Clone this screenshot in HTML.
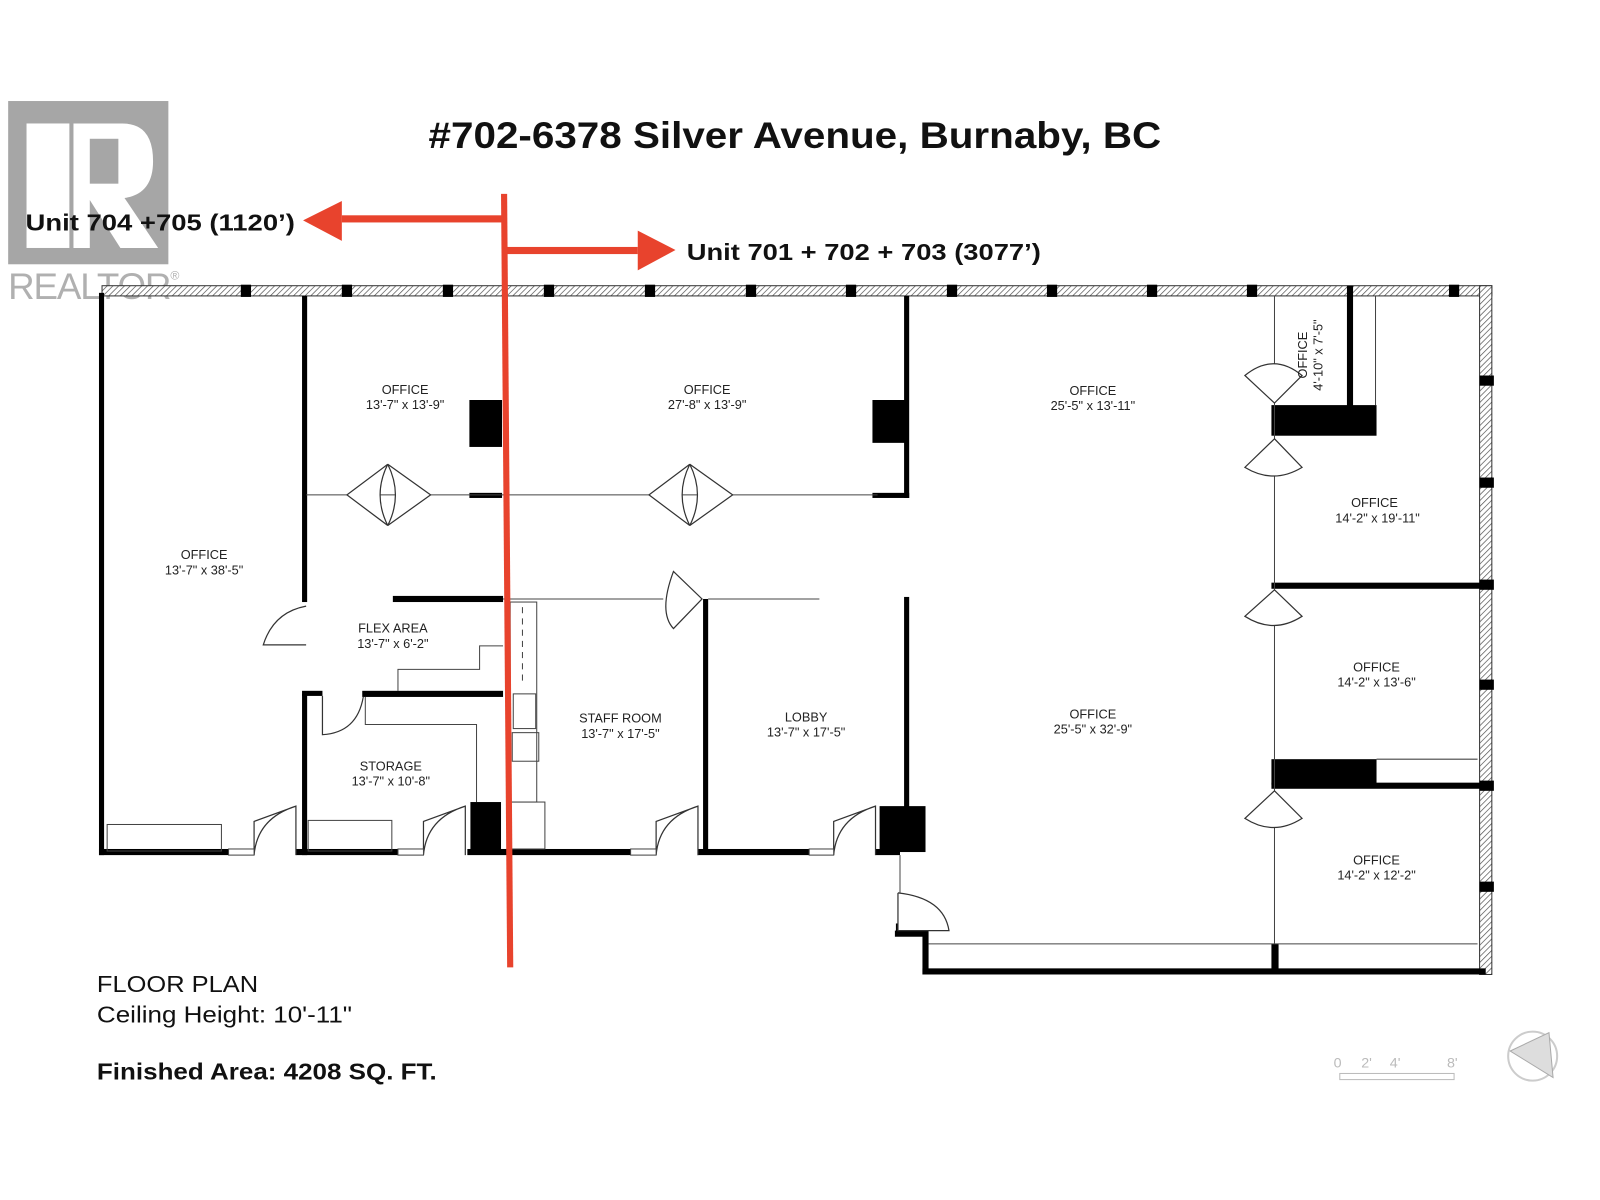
<!DOCTYPE html>
<html><head><meta charset="utf-8"><style>
html,body{margin:0;padding:0;background:#fff;width:1600px;height:1200px;overflow:hidden}
svg{display:block}
.t{font-family:"Liberation Sans",sans-serif;fill:#222;font-size:12.5px;text-anchor:middle}
</style></head><body>
<svg width="1600" height="1200" viewBox="0 0 1568 1176" xmlns="http://www.w3.org/2000/svg">
<defs>
<pattern id="h" width="4" height="4" patternUnits="userSpaceOnUse" patternTransform="rotate(45)">
<rect width="4" height="4" fill="#fff"/><line x1="0" y1="0" x2="0" y2="4" stroke="#555" stroke-width="1.4"/></pattern>
</defs>
<rect width="1568" height="1176" fill="#fff"/>
<!-- realtor logo -->
<rect x="8" y="99" width="157" height="160" fill="#a6a6a6"/>
<rect x="26" y="121" width="42" height="122" fill="#fff"/>
<path d="M72 121 H120 Q150 121 150 158 Q150 190 122 194 L155 243 H118 L88 196 V243 H72 Z" fill="#fff"/>
<rect x="88" y="136" width="28" height="44" fill="#a6a6a6"/>
<text x="8" y="293" font-family="Liberation Sans,sans-serif" font-size="36" fill="#b0b0b0" textLength="160">REALTOR</text>
<text x="167" y="274" font-family="Liberation Sans,sans-serif" font-size="12" fill="#b0b0b0">®</text>
<!-- title -->
<text x="420" y="145" font-family="Liberation Sans,sans-serif" font-weight="bold" font-size="36" fill="#111" textLength="718" lengthAdjust="spacingAndGlyphs">#702-6378 Silver Avenue, Burnaby, BC</text>
<!-- outer walls -->
<rect x="100" y="280" width="1362" height="10" fill="url(#h)" stroke="#333" stroke-width="1"/>
<rect x="1450" y="280" width="12" height="675" fill="url(#h)" stroke="#333" stroke-width="1"/>
<g fill="#000">
<rect x="236" y="279" width="10" height="12"/><rect x="335" y="279" width="10" height="12"/><rect x="434" y="279" width="10" height="12"/>
<rect x="533" y="279" width="10" height="12"/><rect x="632" y="279" width="10" height="12"/><rect x="731" y="279" width="10" height="12"/>
<rect x="829" y="279" width="10" height="12"/><rect x="928" y="279" width="10" height="12"/><rect x="1026" y="279" width="10" height="12"/>
<rect x="1124" y="279" width="10" height="12"/><rect x="1222" y="279" width="10" height="12"/><rect x="1420" y="279" width="10" height="12"/>
<rect x="1450" y="368" width="14" height="10"/><rect x="1450" y="468" width="14" height="10"/><rect x="1450" y="568" width="14" height="10"/>
<rect x="1450" y="666" width="14" height="10"/><rect x="1450" y="765" width="14" height="10"/><rect x="1450" y="864" width="14" height="10"/>
<!-- outer -->
<rect x="97" y="287" width="5" height="551"/>
<rect x="97" y="832" width="127" height="6"/><rect x="290" y="832" width="100" height="6"/><rect x="458" y="832" width="160" height="6"/>
<rect x="683" y="832" width="110" height="6"/><rect x="858" y="832" width="24" height="6"/>
<rect x="878" y="905" width="4" height="10"/>
<rect x="877" y="912" width="32" height="6"/><rect x="904" y="912" width="6" height="43"/><rect x="904" y="949" width="552" height="6"/>
<!-- interior -->
<rect x="296" y="290" width="5" height="300"/><rect x="296" y="680" width="5" height="158"/>
<rect x="296" y="677" width="20" height="5"/>
<rect x="886" y="290" width="5" height="198"/><rect x="855" y="483" width="36" height="5"/>
<rect x="460" y="392" width="32" height="46"/><rect x="855" y="392" width="34" height="42"/>
<rect x="460" y="483" width="32" height="5"/>
<rect x="385" y="584" width="108" height="6"/>
<rect x="355" y="677" width="138" height="6"/>
<rect x="689" y="587" width="5" height="250"/>
<rect x="886" y="585" width="5" height="215"/>
<rect x="862" y="790" width="45" height="45"/>
<rect x="461" y="786" width="30" height="48"/>
<rect x="1320" y="280" width="6" height="120"/>
<rect x="1246" y="397" width="103" height="30"/>
<rect x="1246" y="571" width="216" height="6"/>
<rect x="1246" y="744" width="103" height="25"/><rect x="1246" y="767" width="216" height="6"/>
<rect x="1246" y="925" width="7" height="25"/>
</g>
<g stroke="#444" stroke-width="1" fill="none">
<line x1="300" y1="485" x2="860" y2="485"/>
<line x1="493" y1="587" x2="650" y2="587"/><line x1="694" y1="587" x2="803" y2="587"/>
<line x1="1249" y1="290" x2="1249" y2="925"/>
<line x1="1348" y1="290" x2="1348" y2="397"/>
<line x1="1349" y1="744" x2="1448" y2="744"/>
<line x1="910" y1="925" x2="1448" y2="925"/>
<rect x="105" y="808" width="112" height="26"/>
<rect x="302" y="804" width="82" height="30"/>
<polyline points="390,677 390,656 470,656 470,633 493,633"/>
<polyline points="358,683 358,710 467,710 467,786"/>
<rect x="500" y="590" width="26" height="196"/>
<line x1="512" y1="595" x2="512" y2="670" stroke-dasharray="6 5"/>
<rect x="503" y="680" width="22" height="34"/><rect x="502" y="718" width="26" height="28"/>
<rect x="500" y="786" width="34" height="46"/>
<line x1="882" y1="838" x2="882" y2="875"/>
</g>
<!-- doors -->
<g stroke="#333" stroke-width="1.2" fill="#fff">
<path d="M249 838 V805 L290 790 V838 M249 838 Q252 802 290 790"/>
<path d="M415 838 V805 L456 790 V838 M415 838 Q418 802 456 790"/>
<path d="M643 838 V805 L684 790 V838 M643 838 Q646 802 684 790"/>
<path d="M817 838 V805 L858 790 V838 M817 838 Q820 802 858 790"/>
<path d="M300 594 Q268 600 258 632 H300"/>
<path d="M316 682 V720 Q350 718 356 683"/>
<path d="M688 587 L660 616 Q645 600 660 560 Z"/>
<path d="M880 875 V912 H930 Q925 880 880 875"/>
<path d="M380 455 L340 485 L380 515 Q365 485 380 455 Z"/><path d="M380 455 L422 485 L380 515 Q395 485 380 455 Z"/>
<path d="M676 455 L636 485 L676 515 Q661 485 676 455 Z"/><path d="M676 455 L718 485 L676 515 Q691 485 676 455 Z"/>
<path d="M1249 395 L1220 368 Q1248 345 1276 368 Z"/>
<path d="M1249 430 L1220 458 Q1248 475 1276 458 Z"/>
<path d="M1249 578 L1220 604 Q1248 622 1276 604 Z"/>
<path d="M1249 775 L1220 802 Q1248 820 1276 802 Z"/>
</g>
<g fill="#000">
<rect x="224" y="832" width="25" height="6" fill="#fff" stroke="#444" stroke-width="1"/>
<rect x="390" y="832" width="25" height="6" fill="#fff" stroke="#444" stroke-width="1"/>
<rect x="618" y="832" width="25" height="6" fill="#fff" stroke="#444" stroke-width="1"/>
<rect x="793" y="832" width="24" height="6" fill="#fff" stroke="#444" stroke-width="1"/>
</g>
<!-- labels -->
<g class="t">
<text x="397" y="386">OFFICE</text><text x="397" y="401">13'-7" x 13'-9"</text>
<text x="693" y="386">OFFICE</text><text x="693" y="401">27'-8" x 13'-9"</text>
<text x="1071" y="387">OFFICE</text><text x="1071" y="402">25'-5" x  13'-11"</text>
<text x="200" y="548">OFFICE</text><text x="200" y="563">13'-7" x 38'-5"</text>
<text x="385" y="620">FLEX AREA</text><text x="385" y="635">13'-7" x 6'-2"</text>
<text x="383" y="755">STORAGE</text><text x="383" y="770">13'-7" x 10'-8"</text>
<text x="608" y="708">STAFF ROOM</text><text x="608" y="723">13'-7" x 17'-5"</text>
<text x="790" y="707">LOBBY</text><text x="790" y="722">13'-7" x 17'-5"</text>
<text x="1071" y="704">OFFICE</text><text x="1071" y="719">25'-5" x 32'-9"</text>
<text x="1347" y="497">OFFICE</text><text x="1350" y="512">14'-2" x  19'-11"</text>
<text x="1349" y="658">OFFICE</text><text x="1349" y="673">14'-2" x 13'-6"</text>
<text x="1349" y="847">OFFICE</text><text x="1349" y="862">14'-2" x 12'-2"</text>
<text transform="translate(1281,348) rotate(-90)">OFFICE</text>
<text transform="translate(1296,348) rotate(-90)">4'-10" x 7'-5"</text>
</g>
<!-- red -->
<g fill="#e8432d" stroke="none">
<polygon points="491,190 497,190 503,948 497,948"/>
<rect x="335" y="211" width="158" height="7"/>
<polygon points="297,216 335,197 335,236"/>
<rect x="497" y="242" width="128" height="7"/>
<polygon points="662,245 625,226 625,265"/>
</g>
<text x="25" y="226" font-family="Liberation Sans,sans-serif" font-weight="bold" font-size="23" fill="#111" textLength="264" lengthAdjust="spacingAndGlyphs">Unit 704 +705 (1120’)</text>
<text x="673" y="255" font-family="Liberation Sans,sans-serif" font-weight="bold" font-size="23" fill="#111" textLength="347" lengthAdjust="spacingAndGlyphs">Unit 701 + 702 + 703 (3077’)</text>
<!-- footer -->
<g font-family="Liberation Sans,sans-serif" fill="#111" font-size="23">
<text x="95" y="972" textLength="158" lengthAdjust="spacingAndGlyphs">FLOOR PLAN</text>
<text x="95" y="1002" textLength="250" lengthAdjust="spacingAndGlyphs">Ceiling Height: 10'-11"</text>
<text x="95" y="1058" font-weight="bold" textLength="333" lengthAdjust="spacingAndGlyphs">Finished Area:  4208 SQ. FT.</text>
</g>
<g font-family="Liberation Sans,sans-serif" fill="#bbb" font-size="14">
<text x="1307" y="1046">0</text><text x="1334" y="1046">2'</text><text x="1362" y="1046">4'</text><text x="1418" y="1046">8'</text>
</g>
<rect x="1313" y="1052" width="112" height="6" fill="none" stroke="#bbb"/>
<circle cx="1502" cy="1035" r="24" fill="none" stroke="#ccc" stroke-width="2"/>
<polygon points="1480,1030 1518,1012 1522,1056" fill="#ddd" stroke="#aaa"/>
</svg>
</body></html>
